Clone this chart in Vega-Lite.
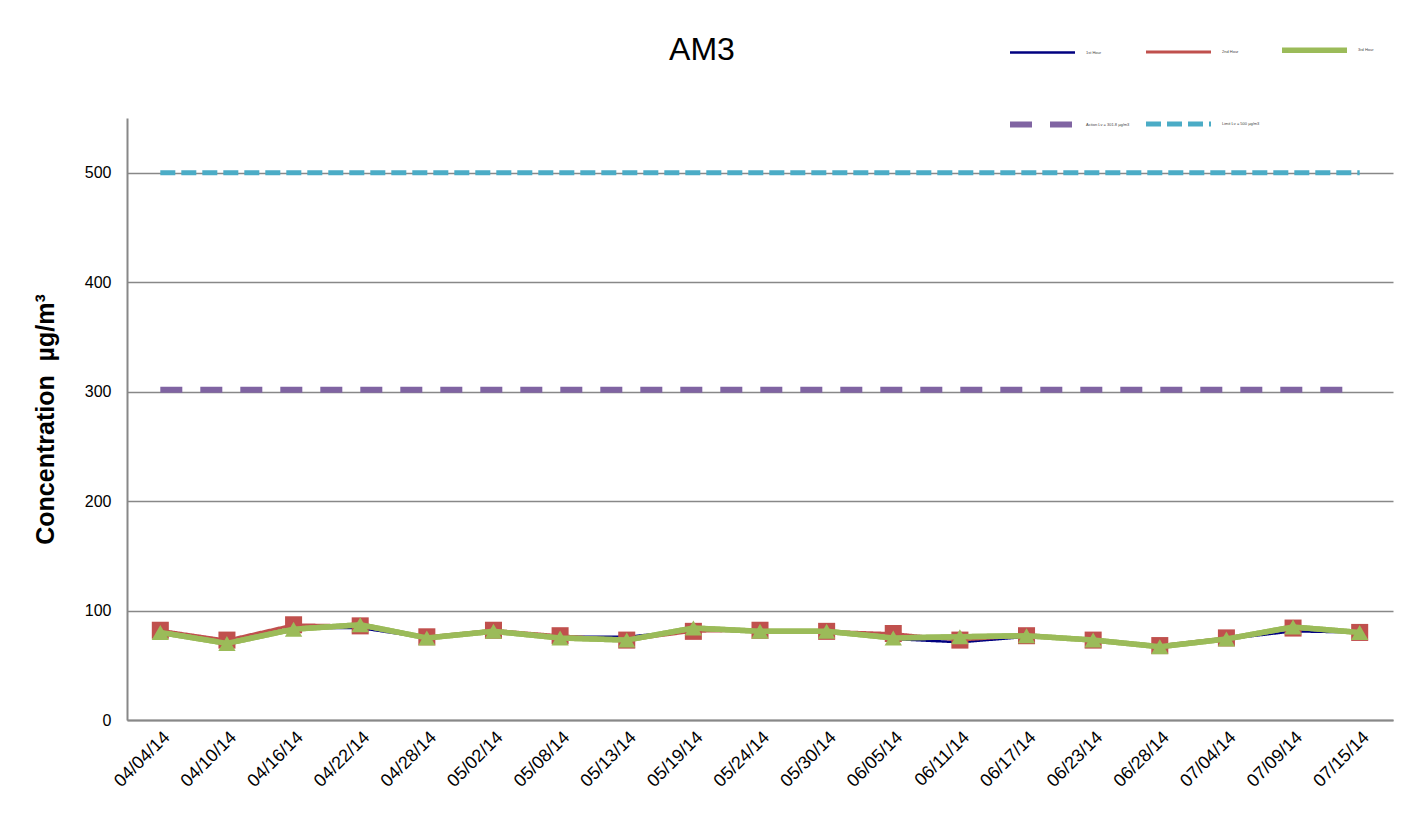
{
  "$schema": "https://vega.github.io/schema/vega-lite/v6.json",
  "width": 1266,
  "height": 602,
  "autosize": {"type": "none"},
  "padding": {"left": 127, "top": 118, "right": 11, "bottom": 112},
  "background": "white",
  "config": {
    "font": "Liberation Sans",
    "view": {"stroke": null},
    "legend": {
      "orient": "none",
      "direction": "horizontal",
      "legendX": 880,
      "legendY": -104,
      "columns": 3,
      "gridAlign": "all",
      "columnPadding": 5,
      "rowPadding": 27,
      "padding": 0,
      "symbolType": "stroke",
      "symbolSize": 4225,
      "labelFontSize": 4,
      "labelColor": "#444",
      "labelOffset": 8,
      "labelLimit": 200
    }
  },
  "title": {"text": "AM3", "fontSize": 32, "fontWeight": "normal", "color": "#000", "anchor": "middle", "dx": -58, "offset": 0, "dy": 53},
  "data": {
    "values": [
      {"date": "04/04/14", "1st Hour": 80, "2nd Hour": 82, "3rd Hour": 80, "Action": 301.8, "Limit": 500},
      {"date": "04/10/14", "1st Hour": 72, "2nd Hour": 73, "3rd Hour": 70, "Action": 301.8, "Limit": 500},
      {"date": "04/16/14", "1st Hour": 84, "2nd Hour": 87, "3rd Hour": 83, "Action": 301.8, "Limit": 500},
      {"date": "04/22/14", "1st Hour": 84, "2nd Hour": 86, "3rd Hour": 87, "Action": 301.8, "Limit": 500},
      {"date": "04/28/14", "1st Hour": 75, "2nd Hour": 76, "3rd Hour": 75, "Action": 301.8, "Limit": 500},
      {"date": "05/02/14", "1st Hour": 81, "2nd Hour": 82, "3rd Hour": 81, "Action": 301.8, "Limit": 500},
      {"date": "05/08/14", "1st Hour": 76, "2nd Hour": 77, "3rd Hour": 75, "Action": 301.8, "Limit": 500},
      {"date": "05/13/14", "1st Hour": 76, "2nd Hour": 73, "3rd Hour": 73, "Action": 301.8, "Limit": 500},
      {"date": "05/19/14", "1st Hour": 82, "2nd Hour": 81, "3rd Hour": 84, "Action": 301.8, "Limit": 500},
      {"date": "05/24/14", "1st Hour": 81, "2nd Hour": 82, "3rd Hour": 81, "Action": 301.8, "Limit": 500},
      {"date": "05/30/14", "1st Hour": 81, "2nd Hour": 81, "3rd Hour": 81, "Action": 301.8, "Limit": 500},
      {"date": "06/05/14", "1st Hour": 74, "2nd Hour": 79, "3rd Hour": 75, "Action": 301.8, "Limit": 500},
      {"date": "06/11/14", "1st Hour": 71, "2nd Hour": 73, "3rd Hour": 76, "Action": 301.8, "Limit": 500},
      {"date": "06/17/14", "1st Hour": 76, "2nd Hour": 77, "3rd Hour": 77, "Action": 301.8, "Limit": 500},
      {"date": "06/23/14", "1st Hour": 73, "2nd Hour": 73, "3rd Hour": 73, "Action": 301.8, "Limit": 500},
      {"date": "06/28/14", "1st Hour": 68, "2nd Hour": 68, "3rd Hour": 67, "Action": 301.8, "Limit": 500},
      {"date": "07/04/14", "1st Hour": 74, "2nd Hour": 75, "3rd Hour": 74, "Action": 301.8, "Limit": 500},
      {"date": "07/09/14", "1st Hour": 81, "2nd Hour": 84, "3rd Hour": 85, "Action": 301.8, "Limit": 500},
      {"date": "07/15/14", "1st Hour": 80, "2nd Hour": 80, "3rd Hour": 80, "Action": 301.8, "Limit": 500}
    ]
  },
  "transform": [
    {"fold": ["1st Hour", "2nd Hour", "3rd Hour", "Action", "Limit"], "as": ["series", "value"]}
  ],
  "encoding": {
    "x": {
      "field": "date",
      "type": "ordinal",
      "sort": null,
      "scale": {"type": "point", "padding": 0.5},
      "axis": {
        "title": null,
        "labelAngle": -45,
        "labelFontSize": 18,
        "labelColor": "#000",
        "labelPadding": 8,
        "ticks": false,
        "grid": false,
        "domainColor": "#888",
        "domainWidth": 2
      }
    },
    "y": {
      "field": "value",
      "type": "quantitative",
      "scale": {"domain": [0, 550], "nice": false},
      "axis": {
        "values": [0, 100, 200, 300, 400, 500],
        "title": "Concentration\u00a0\u00a0µg/m³",
        "titleFontSize": 25,
        "titleFontWeight": "bold",
        "titleColor": "#000",
        "titleX": -82,
        "titleY": 301,
        "titleAngle": 270,
        "titleAlign": "center",
        "titleBaseline": "middle",
        "labelFontSize": 16,
        "labelColor": "#000",
        "labelPadding": 16,
        "ticks": false,
        "grid": true,
        "gridColor": "#888",
        "gridWidth": 1.5,
        "domainColor": "#888",
        "domainWidth": 2
      }
    }
  },
  "layer": [
    {
      "mark": {"type": "line", "strokeCap": "butt", "strokeJoin": "round"},
      "encoding": {
        "color": {
          "field": "series",
          "type": "nominal",
          "title": null,
          "scale": {
            "domain": ["1st Hour", "2nd Hour", "3rd Hour", "Action", "Limit"],
            "range": ["#000080", "#C0504D", "#9BBB59", "#8064A2", "#4BACC6"]
          },
          "legend": {
            "labelExpr": "datum.label == 'Action' ? 'Action Lv = 301.8 µg/m3' : datum.label == 'Limit' ? 'Limit Lv = 500 µg/m3' : datum.label"
          }
        },
        "strokeDash": {
          "field": "series",
          "type": "nominal",
          "title": null,
          "scale": {
            "domain": ["1st Hour", "2nd Hour", "3rd Hour", "Action", "Limit"],
            "range": [[1, 0], [1, 0], [1, 0], [22, 18], [15, 6]]
          }
        },
        "strokeWidth": {
          "field": "series",
          "type": "ordinal",
          "title": null,
          "scale": {
            "type": "ordinal",
            "domain": ["1st Hour", "2nd Hour", "3rd Hour", "Action", "Limit"],
            "range": [2.5, 3, 5.5, 6, 5]
          }
        }
      }
    },
    {
      "transform": [{"filter": "datum.series == '2nd Hour'"}],
      "mark": {"type": "point", "shape": "square", "filled": true, "size": 290, "color": "#C0504D", "opacity": 1}
    },
    {
      "transform": [{"filter": "datum.series == '3rd Hour'"}],
      "mark": {"type": "line", "color": "#9BBB59", "strokeWidth": 5.5, "strokeJoin": "round"}
    },
    {
      "transform": [{"filter": "datum.series == '3rd Hour'"}],
      "mark": {"type": "point", "shape": "triangle-up", "filled": true, "size": 300, "color": "#9BBB59", "opacity": 1}
    }
  ]
}
